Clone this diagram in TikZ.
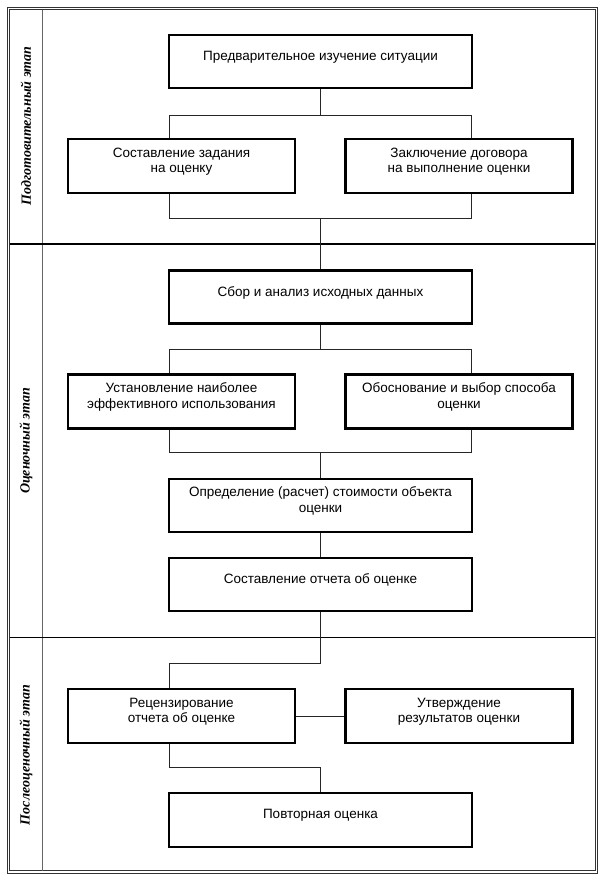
\documentclass[tikz,border=0pt]{standalone}
\usepackage{fontspec}
\setmainfont{Liberation Sans}
\newfontfamily\labfont{Liberation Serif}
\begin{document}
\begin{tikzpicture}[x=1pt,y=-1pt,
  box/.style={draw=black,line width=2.6pt,fill=white,inner sep=0pt},
  bigbox/.style={box,minimum width=303pt,minimum height=53pt},
  smallbox/.style={box,minimum width=227pt,minimum height=54pt},
  txt/.style={align=center,inner sep=0pt,font=\fontsize{13.5}{15.5}\selectfont},
  conn/.style={line width=0.9pt,draw=black!85},
  stage/.style={rotate=90,inner sep=0pt,font=\labfont\bfseries\itshape\fontsize{14}{16}\selectfont},
  frame/.style={line width=1pt,draw=black!80},
  sep/.style={line width=1.8pt,draw=black},
  vsep/.style={line width=1.3pt,draw=black!60}]
\useasboundingbox (0,0) rectangle (606,881);
% frame
\draw[frame] (7,7) rectangle (597.5,873);
\draw[frame] (9.5,9.5) rectangle (595,870.5);
\draw[vsep] (42.5,9.5) -- (42.5,870.5);
\draw[sep] (9.5,244) -- (595,244);
\draw[sep] (9.5,637.5) -- (595,637.5);
% stage labels
\node[stage] (s1) at (26,126) {Подготовительный этап};
\node[stage] (s2) at (26,441) {Оценочный этап};
\node[stage] (s3) at (26,755) {Послеоценочный этап};
% coordinates for brackets
\coordinate (a1) at (169,115);
\coordinate (a2) at (471,115);
\coordinate (c1) at (169,218);
\coordinate (c2) at (471,218);
\coordinate (d1) at (169,349);
\coordinate (d2) at (471,349);
\coordinate (e1) at (169,452);
\coordinate (e2) at (471,452);
\coordinate (f1) at (169,663);
\coordinate (g1) at (169,767);
% boxes
\node[bigbox] (b1) at (320.5,61.5) {};
\node[smallbox] (b2) at (181.5,166) {};
\node[smallbox] (b3) at (459,166) {};
\node[bigbox] (b4) at (320.5,297) {};
\node[smallbox] (b5) at (181.5,401.5) {};
\node[smallbox] (b6) at (459,401.5) {};
\node[bigbox] (b7) at (320.5,505.5) {};
\node[bigbox] (b8) at (320.5,584.5) {};
\node[smallbox] (b9) at (181.5,716) {};
\node[smallbox] (b10) at (459,716) {};
\node[bigbox,minimum height=54pt] (b11) at (320.5,820) {};
% connectors
\draw[conn] (b1.south) -- (b1.south |- a1);
\draw[conn] (b2.north -| a1) -- (a1) -- (a2) -- (b3.north -| a2);
\draw[conn] (b2.south -| c1) -- (c1) -- (c2) -- (b3.south -| c2);
\draw[conn] (b1.south |- c1) -- (b4.north);
\draw[conn] (b4.south) -- (b4.south |- d1);
\draw[conn] (b5.north -| d1) -- (d1) -- (d2) -- (b6.north -| d2);
\draw[conn] (b5.south -| e1) -- (e1) -- (e2) -- (b6.south -| e2);
\draw[conn] (b4.south |- e1) -- (b7.north);
\draw[conn] (b7.south) -- (b8.north);
\draw[conn] (b8.south) -- (b8.south |- f1) -- (f1) -- (b9.north -| f1);
\draw[conn] (b9.east) -- (b10.west);
\draw[conn] (b9.south -| g1) -- (g1) -- (b11.north |- g1) -- (b11.north);
% texts
\node[txt] (t1) at ([yshift=4.5pt]b1.center) {Предварительное изучение ситуации};
\node[txt] (t2) at ([yshift=4.5pt]b2.center) {Составление задания\\на оценку};
\node[txt] (t3) at ([yshift=4.5pt]b3.center) {Заключение договора\\на выполнение оценки};
\node[txt] (t4) at ([yshift=4.5pt]b4.center) {Сбор и анализ исходных данных};
\node[txt] (t5) at ([yshift=4.5pt]b5.center) {Установление наиболее\\эффективного использования};
\node[txt] (t6) at ([yshift=4.5pt]b6.center) {Обоснование и выбор способа\\оценки};
\node[txt] (t7) at ([yshift=4.5pt]b7.center) {Определение (расчет) стоимости объекта\\оценки};
\node[txt] (t8) at ([yshift=4.5pt]b8.center) {Составление отчета об оценке};
\node[txt] (t9) at ([yshift=4.5pt]b9.center) {Рецензирование\\отчета об оценке};
\node[txt] (t10) at ([yshift=4.5pt]b10.center) {Утверждение\\результатов оценки};
\node[txt] (t11) at ([yshift=4.5pt]b11.center) {Повторная оценка};
\end{tikzpicture}
\end{document}
